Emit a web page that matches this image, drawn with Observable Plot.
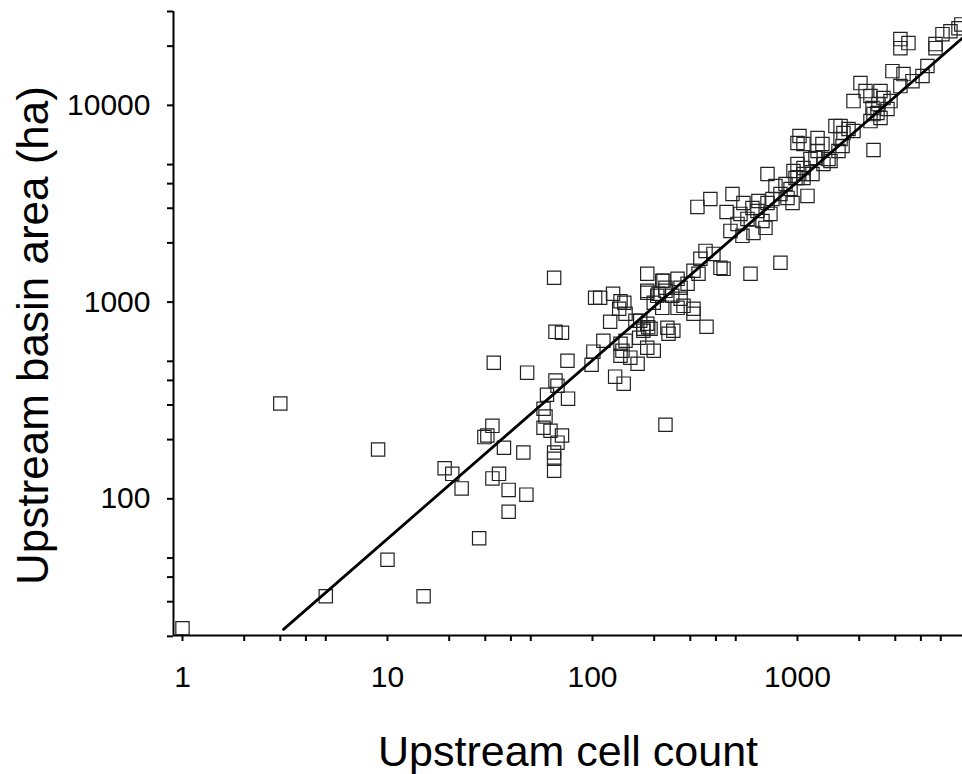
<!DOCTYPE html>
<html>
<head>
<meta charset="utf-8">
<script src="https://cdn.jsdelivr.net/npm/d3@7"></script>
<script src="https://cdn.jsdelivr.net/npm/@observablehq/plot@0.6"></script>
<style>
  html, body { margin: 0; padding: 0; background: #fff; }
</style>
</head>
<body>
<div id="chart"></div>
<script>
// Upstream cell count (x) vs upstream basin area in ha (y)
const cellCount = [
  1, 3.0, 9.0, 10, 5.0, 15, 28, 33, 19, 20.7, 23, 32.5, 30.7, 29.7, 37, 46, 32.5, 35, 39, 47.6, 39,
  65, 66, 71, 75.5, 48, 66, 67.5, 60, 76, 57.7, 59, 57.7, 62.4, 71, 67.5, 65, 65, 65,
  103, 126, 143, 135, 122, 185, 185, 219, 227, 219, 207, 101, 99, 162, 177, 192, 185, 169, 145, 140,
  137, 153, 166, 185, 199, 129, 142, 232, 235, 113, 137, 248, 227, 360, 311, 260,
  109, 137, 145, 171, 187, 177,
  325, 376, 482, 451, 545, 603, 645, 527, 570, 510, 471, 539, 610, 698, 738, 675, 638, 755, 826, 946,
  894, 714, 1119, 1000, 1070, 714, 356, 336, 389, 421, 436, 311, 329, 590, 826, 222, 260, 291, 269, 185,
  210, 227, 245, 269, 199, 278, 311, 781, 874, 925,
  3177, 3177, 3478, 4713, 5097, 5575, 6100, 4713, 4306, 4073, 2905, 3290, 3639, 3177, 2029, 2148, 1876,
  2270, 2541, 2629, 2843, 2323, 2483, 2349, 2270, 2456, 2748, 1622, 1676, 1774, 1876, 1622, 1659, 1585,
  2349, 1000, 1070, 1253, 1324, 1253, 1224, 1417, 1339, 1157, 1000, 1070, 956, 1184, 978, 1070, 1532,
  1023, 1449, 2541, 6300
];
const basinArea = [
  22, 305, 178, 49, 32, 32, 63, 492, 143, 134, 113, 235, 210, 206, 182, 172, 127, 134, 111, 105, 86,
  1330, 706, 698, 503, 438, 399, 376, 338, 323, 287, 262, 230, 222, 210, 193, 172, 160, 139,
  1052, 1102, 992, 925, 794, 1393, 1115, 1283, 1182, 935, 1076, 560, 481, 804, 732, 732, 776, 659, 636, 566,
  534, 522, 486, 586, 566, 418, 385, 741, 690, 636, 614, 715, 238, 750, 873, 935,
  1052, 1010, 873, 804, 745, 715,
  3047, 3345, 3546, 2873, 3192, 3010, 3268, 2807, 2648, 2497, 2301, 2171, 2248, 2384, 2807, 2586, 2906, 3345, 3546, 3192,
  3385, 3192, 3466, 4276, 4480, 4480, 1821, 1660, 1758, 1493, 1476, 1442, 1393, 1393, 1584, 1283, 1313, 1239, 1182, 1141,
  1102, 1141, 1076, 1040, 992, 957, 925, 3890, 3985, 3760,
  21720, 19540, 20720, 20480, 23010, 23830, 24670, 19540, 15850, 14090, 14930, 14420, 13280, 12530, 12980, 11820, 10510,
  11150, 11820, 10890, 10510, 9690, 10150, 9030, 8320, 9140, 9580, 7850, 7230, 7580, 7410, 6745, 6210, 5860,
  5930, 6440, 6360, 6820, 6360, 5860, 5405, 5337, 5035, 5337, 5035, 4807, 4642, 4480, 4276, 4276, 7850,
  6985, 5215, 8630, 25800
];

// Fitted power-law line, read at its two ends
const fitCellCount = [3.11, 6383];
const fitBasinArea = [21.7, 22000];

// Axis ranges and ticks
const xDomain = [0.904, 6383];
const yDomain = [20.2, 30000];
const xTicksAll = [1, 2, 3, 4, 5, 10, 20, 30, 40, 50, 100, 200, 300, 400, 500, 1000, 2000, 3000, 4000, 5000];
const xTickLabels = [1, 10, 100, 1000];
const yTicksAll = [20, 30, 40, 50, 100, 200, 300, 400, 500, 1000, 2000, 3000, 4000, 5000, 10000, 20000, 30000];
const yTickLabels = [100, 1000, 10000];
const xTitle = "Upstream cell count";
const yTitle = "Upstream basin area (ha)";

const points = cellCount.map((c, i) => ({cells: c, area: basinArea[i]}));
const fit = fitCellCount.map((c, i) => ({cells: c, area: fitBasinArea[i]}));

const font = "'Liberation Sans', Arial, Helvetica, sans-serif";

const chart = Plot.plot({
  width: 962,
  height: 774,
  marginTop: 11,
  marginBottom: 139,
  marginLeft: 173,
  marginRight: 0,
  style: {fontFamily: font, background: "#fff", color: "#000"},
  x: {type: "log", domain: xDomain},
  y: {type: "log", domain: yDomain},
  marks: [
    Plot.dot(points, {x: "cells", y: "area", symbol: "square", r: 7.5, fill: "none", stroke: "#222", strokeWidth: 1.2}),
    Plot.line(fit, {x: "cells", y: "area", stroke: "#000", strokeWidth: 2.8}),
    Plot.ruleY([yDomain[0]], {stroke: "#000", strokeWidth: 2}),
    Plot.ruleX([xDomain[0]], {stroke: "#000", strokeWidth: 2}),
    Plot.axisX({ticks: xTicksAll, tickSize: 6, strokeWidth: 2, tickFormat: () => "", label: null}),
    Plot.axisY({ticks: yTicksAll, tickSize: 6, strokeWidth: 2, tickFormat: () => "", label: null}),
    Plot.axisX({ticks: xTickLabels, tickSize: 0, tickPadding: 30, fontSize: 30, tickFormat: d3.format("d"), label: null}),
    Plot.axisY({ticks: yTickLabels, tickSize: 0, tickPadding: 23, fontSize: 30, tickFormat: d3.format("d"), label: null}),
    Plot.text([xTitle], {frameAnchor: "bottom", textAnchor: "middle", lineAnchor: "middle", dy: 117, fontSize: 43, fill: "#000"}),
    Plot.text([yTitle], {frameAnchor: "left", textAnchor: "middle", lineAnchor: "middle", rotate: -90, dx: -140, dy: 12, fontSize: 44, fill: "#000"})
  ]
});
document.getElementById("chart").appendChild(chart);
</script>
</body>
</html>
